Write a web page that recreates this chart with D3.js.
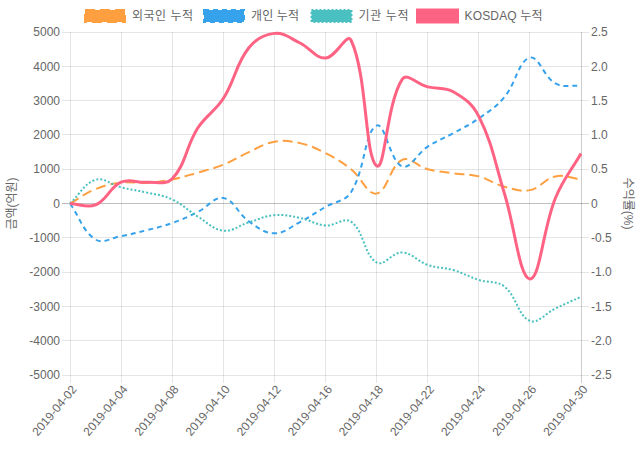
<!DOCTYPE html>
<html><head><meta charset="utf-8">
<script src="https://cdn.jsdelivr.net/npm/d3@7"></script>
<style>
html,body{margin:0;padding:0;background:#fff;}
svg{display:block;font-family:"Helvetica Neue",Helvetica,Arial,"Noto Sans CJK KR",sans-serif;}
</style></head>
<body><svg id="c" width="640" height="450"></svg>
<script>
const dates = ["2019-04-02","2019-04-03","2019-04-04","2019-04-05","2019-04-08","2019-04-09","2019-04-10","2019-04-11","2019-04-12","2019-04-15","2019-04-16","2019-04-17","2019-04-18","2019-04-19","2019-04-22","2019-04-23","2019-04-24","2019-04-25","2019-04-26","2019-04-29","2019-04-30"];
const foreign = [0,420,610,600,700,900,1130,1500,1800,1760,1470,1000,290,1270,1000,880,790,490,390,790,700];
const individual = [0,-1050,-950,-780,-570,-250,160,-520,-870,-540,-100,330,2270,1080,1660,2050,2480,3100,4250,3500,3430];
const institution = [0,690,470,320,120,-380,-790,-550,-340,-420,-640,-530,-1720,-1430,-1790,-1940,-2230,-2420,-3420,-3060,-2720];
const kosdaq = [0,-0.02,0.31,0.31,0.36,1.1,1.53,2.27,2.48,2.34,2.12,2.38,0.55,1.81,1.7,1.63,1.27,0.15,-1.1,0.08,0.73];
const leftTicks = [5000,4000,3000,2000,1000,0,-1000,-2000,-3000,-4000,-5000];
const rightTicks = [2.5,2.0,1.5,1.0,0.5,0,-0.5,-1.0,-1.5,-2.0,-2.5];
const rightTickLabels = ["2.5","2.0","1.5","1.0","0.5","0","-0.5","-1.0","-1.5","-2.0","-2.5"];
const seriesNames = ["외국인 누적","개인 누적","기관 누적","KOSDAQ 누적"];
const leftTitle = "금액(억원)", rightTitle = "수익률(%)";

const svg = d3.select("#c");
const L=70, R=581, T=32, B=375;
const x = d3.scalePoint().domain(dates).range([L,R]);
const yL = d3.scaleLinear().domain([-5000,5000]).range([B,T]);
const yR = d3.scaleLinear().domain([-2.5,2.5]).range([B,T]);
const shown = dates.filter((d,i)=>i%2===0);

const g = svg.append("g");
leftTicks.forEach(v=>{
  g.append("line").attr("x1",L-8).attr("x2",R+8).attr("y1",yL(v)).attr("y2",yL(v))
   .attr("stroke", v===0?"rgba(0,0,0,0.25)":"rgba(0,0,0,0.1)").attr("stroke-width",1).attr("shape-rendering","crispEdges");
});
shown.forEach(d=>{
  g.append("line").attr("x1",x(d)).attr("x2",x(d)).attr("y1",T).attr("y2",B+8)
   .attr("stroke","rgba(0,0,0,0.1)").attr("shape-rendering","crispEdges");
});
g.append("line").attr("x1",R).attr("x2",R).attr("y1",T).attr("y2",B+8).attr("stroke","rgba(0,0,0,0.1)").attr("shape-rendering","crispEdges");

const txt = svg.append("g").attr("fill","#666").attr("font-size",12);
leftTicks.forEach(v=>{
  txt.append("text").attr("x",L-10).attr("y",yL(v)).attr("dy","0.35em").attr("text-anchor","end").text(v);
});
rightTicks.forEach((v,i)=>{
  txt.append("text").attr("x",R+10).attr("y",yR(v)).attr("dy","0.35em").attr("text-anchor","start").text(rightTickLabels[i]);
});
shown.forEach(d=>{
  txt.append("text").attr("transform",`translate(${x(d)+4},${B+12}) rotate(-50)`).attr("text-anchor","end").attr("dy","0.35em").text(d);
});
txt.append("text").attr("transform",`translate(12,${(T+B)/2}) rotate(-90)`).attr("text-anchor","middle").attr("dy","0.35em").text(leftTitle);
txt.append("text").attr("transform",`translate(628,${(T+B)/2}) rotate(90)`).attr("text-anchor","middle").attr("dy","0.35em").text(rightTitle);

function spline(vals, ys, t=0.4){
  const pts = vals.map((v,i)=>({x:x(dates[i]), y:ys(v)}));
  pts.forEach((p,i)=>{
    const pr = pts[i-1]||p, nx = pts[i+1]||p;
    const d01=Math.hypot(p.x-pr.x,p.y-pr.y), d12=Math.hypot(nx.x-p.x,nx.y-p.y);
    let s01=d01/(d01+d12), s12=d12/(d01+d12);
    if(isNaN(s01)) s01=0; if(isNaN(s12)) s12=0;
    const fa=t*s01, fb=t*s12;
    p.c1={x:p.x-fa*(nx.x-pr.x), y:p.y-fa*(nx.y-pr.y)};
    p.c2={x:p.x+fb*(nx.x-pr.x), y:p.y+fb*(nx.y-pr.y)};
    p.c1.y=Math.max(T,Math.min(B,p.c1.y)); p.c2.y=Math.max(T,Math.min(B,p.c2.y));
  });
  const path=d3.path();
  path.moveTo(pts[0].x,pts[0].y);
  for(let i=1;i<pts.length;i++){
    const a=pts[i-1], b=pts[i];
    path.bezierCurveTo(a.c2.x,a.c2.y,b.c1.x,b.c1.y,b.x,b.y);
  }
  return path.toString();
}
const series = [
  {vals:foreign, sc:yL, color:"rgb(255,159,64)", w:2, dash:"10,5"},
  {vals:individual, sc:yL, color:"rgb(54,162,235)", w:2, dash:"5,4"},
  {vals:institution, sc:yL, color:"rgb(75,192,192)", w:2, dash:"2,2"},
  {vals:kosdaq, sc:yR, color:"rgb(255,99,132)", w:3, dash:null}
];
const lines = svg.append("g").attr("fill","none");
series.forEach(s=>{
  const p = lines.append("path").attr("d",spline(s.vals,s.sc)).attr("stroke",s.color).attr("stroke-width",s.w);
  if(s.dash) p.attr("stroke-dasharray",s.dash);
});

// legend (layout positions matched to reference)
const legendX = [85,204,311.5,417.5];
const legendTextW = [61,48,50,78];
const lg = svg.append("g").attr("font-size",12).attr("fill","#666");
seriesNames.forEach((n,i)=>{
  const s = series[i];
  const r = lg.append("rect").attr("x",legendX[i]).attr("y",10).attr("width",40).attr("height",12)
    .attr("fill",s.color).attr("stroke",s.color).attr("stroke-width",s.w);
  if(s.dash) r.attr("stroke-dasharray",s.dash);
  lg.append("text").attr("x",legendX[i]+47).attr("y",16).attr("dy","0.35em")
    .attr("textLength",legendTextW[i]).attr("lengthAdjust","spacing").text(n);
});
</script></body></html>
